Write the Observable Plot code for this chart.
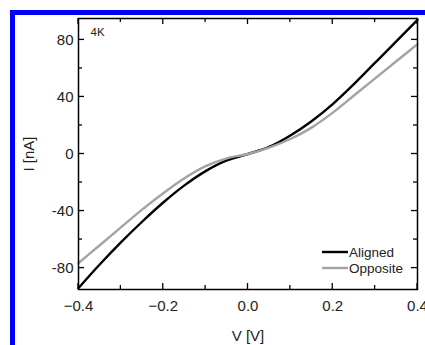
<!DOCTYPE html>
<html><head><meta charset="utf-8">
<script src="https://cdn.jsdelivr.net/npm/d3@7"></script>
<script src="https://cdn.jsdelivr.net/npm/@observablehq/plot@0.6"></script>
<style>
html,body{margin:0;padding:0;background:#fff;overflow:hidden;}
#wrap{position:absolute;left:10px;top:10px;width:410px;height:330px;border-top:5px solid #0000ff;border-left:5px solid #0000ff;}
#wrap svg{overflow:visible;}
</style></head><body><div id="wrap"></div>
<script>
const voltage = [-0.4,-0.35,-0.3,-0.25,-0.2,-0.15,-0.1,-0.05,0,0.05,0.1,0.15,0.2,0.25,0.3,0.35,0.4];
const alignedCurrent = [-94,-77.5,-62,-47.5,-34,-22,-12,-4.5,0,5,13,23,35,49,64,79,94];
const oppositeCurrent = [-76.5,-64,-51.5,-39,-27.5,-17,-8.5,-3,0,4.5,10.5,18.5,29,41,53,65,77];
const seriesNames = ["Aligned","Opposite"];
const seriesColors = ["#000000","#a3a3a3"];
const xMajorTicks = [-0.4,-0.2,0,0.2,0.4];
const xMinorTicks = [-0.3,-0.1,0.1,0.3];
const yMajorTicks = [-80,-40,0,40,80];
const yMinorTicks = [-60,-20,20,60];
const tempLabel = "4K";

const rows = [];
voltage.forEach((v,i)=>{
  rows.push({V:v, I:alignedCurrent[i], s:seriesNames[0]});
  rows.push({V:v, I:oppositeCurrent[i], s:seriesNames[1]});
});

function ticksMark(index, scales, values, dim) {
  const g = d3.create("svg:g").attr("stroke","#000").attr("stroke-width",1.3);
  const L = dim.marginLeft, R = dim.width - dim.marginRight, T = dim.marginTop, B = dim.height - dim.marginBottom;
  const addX = (ticks, len) => ticks.forEach(t => {
    const x = scales.x(t);
    g.append("line").attr("x1",x).attr("x2",x).attr("y1",B).attr("y2",B-len);
    g.append("line").attr("x1",x).attr("x2",x).attr("y1",T).attr("y2",T+len);
  });
  const addY = (ticks, len) => ticks.forEach(t => {
    const y = scales.y(t);
    g.append("line").attr("y1",y).attr("y2",y).attr("x1",L).attr("x2",L+len);
    g.append("line").attr("y1",y).attr("y2",y).attr("x1",R).attr("x2",R-len);
  });
  addX(xMajorTicks, 6); addX(xMinorTicks, 4);
  addY(yMajorTicks, 6); addY(yMinorTicks, 4);
  return g.node();
}

function legendMark(index, scales, values, dim) {
  const g = d3.create("svg:g");
  const R = dim.width - dim.marginRight, B = dim.height - dim.marginBottom;
  seriesNames.forEach((name,i)=>{
    const y = B - 37 + i*16;
    g.append("line").attr("x1",R-95).attr("x2",R-69).attr("y1",y).attr("y2",y)
      .attr("stroke",seriesColors[i]).attr("stroke-width",2.4);
    g.append("text").attr("x",R-68).attr("y",y).attr("dy","0.35em")
      .attr("text-anchor","start")
      .attr("font-size",13.5).attr("fill","#222").text(name);
  });
  return g.node();
}

const chart = Plot.plot({
  width: 410, height: 330,
  marginLeft: 63, marginRight: 8, marginTop: 3, marginBottom: 56,
  style: {fontSize: "15px", fontFamily: "'Liberation Sans', Arial, sans-serif", color: "#222", background: "#fff"},
  x: {domain: [-0.4, 0.4]},
  y: {domain: [-95, 95]},
  color: {domain: seriesNames, range: seriesColors},
  marks: [
    Plot.axisX(xMajorTicks, {tickSize: 0, tickPadding: 11, tickFormat: d3.format(".1f"), label: "V [V]", labelArrow: "none", labelAnchor: "center", labelOffset: 51}),
    Plot.axisY(yMajorTicks, {tickSize: 0, tickPadding: 5, tickFormat: d => String(d), label: "I [nA]", labelArrow: "none", labelAnchor: "center", labelOffset: 55}),
    Plot.line(rows, {x: "V", y: "I", z: "s", stroke: "s", strokeWidth: 2.4, curve: "monotone-x"}),
    Plot.text([tempLabel], {frameAnchor: "top-left", dx: 12, dy: 9, text: d => d, fontSize: 11.5, fill: "#222"}),
    legendMark,
    ticksMark,
    Plot.frame({stroke: "#000", strokeWidth: 1.5})
  ]
});
document.getElementById("wrap").appendChild(chart);
</script></body></html>
